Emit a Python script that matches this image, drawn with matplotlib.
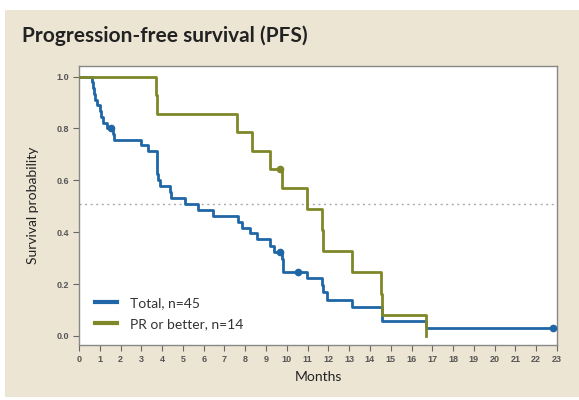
import matplotlib
matplotlib.use('Agg')
import matplotlib.pyplot as plt
from matplotlib.patches import Rectangle

# Total, n=45 (step times in months, survival after step)
total_t=[0.0,0.64,0.67,0.72,0.78,0.85,1.01,1.08,1.17,1.35,1.65,1.70,3.0,3.3,3.74,3.75,3.76,3.77,3.78,3.9,4.38,4.45,5.1,5.74,6.47,7.67,7.83,8.23,8.56,9.2,9.36,9.79,9.8,9.81,10.96,11.68,11.75,11.93,13.13,14.57,16.71,22.8]
total_s=[1.0,0.978,0.956,0.933,0.911,0.889,0.867,0.844,0.822,0.80,0.778,0.756,0.737,0.715,0.693,0.670,0.648,0.625,0.603,0.578,0.555,0.531,0.509,0.486,0.462,0.441,0.418,0.396,0.372,0.348,0.323,0.298,0.273,0.248,0.224,0.196,0.168,0.140,0.112,0.058,0.029,0.029]
total_cens_t=[1.54,9.68,10.56,22.8]
total_cens_s=[0.80,0.323,0.248,0.029]

# PR or better, n=14
pr_t=[0.0,3.71,3.74,7.59,8.31,9.2,9.79,10.99,11.68,11.76,13.13,14.55,14.6,16.71]
pr_s=[1.0,0.929,0.857,0.786,0.714,0.643,0.571,0.49,0.408,0.327,0.245,0.163,0.082,0.0]
pr_cens_t=[9.68]
pr_cens_s=[0.643]

median_line=0.51
xticks=list(range(0,24))
yticks=[0.0,0.2,0.4,0.6,0.8,1.0]

blue='#1f66a6'
olive='#7f8728'
beige='#ece5d3'

fig=plt.figure(figsize=(5.79,4.0),dpi=100,facecolor='white')
bg=Rectangle((5/579,3/400),574/579,387/400,transform=fig.transFigure,facecolor=beige,edgecolor='none',zorder=-10)
fig.add_artist(bg)

fig.text(22/579,1-36/400,'Progression-free survival (PFS)',fontsize=15,fontweight='bold',family='Lato',color='#222222',va='center',ha='left')

ax=fig.add_axes([79/579,1-345/400,478/579,279/400])
ax.set_zorder(5)
ax.set_facecolor('white')

ax.axhline(median_line,color='#aaaaaa',linestyle=(0,(1.5,2.5)),linewidth=1.0,zorder=1)

ax.step(total_t,total_s,where='post',color=blue,linewidth=2.0,label='Total, n=45',zorder=3)
ax.plot(total_cens_t,total_cens_s,'o',color=blue,markersize=4.5,zorder=4)
ax.step(pr_t,pr_s,where='post',color=olive,linewidth=2.0,label='PR or better, n=14',zorder=3)
ax.plot(pr_cens_t,pr_cens_s,'o',color=olive,markersize=4.5,zorder=4)

ax.set_xlim(0,23)
ax.set_ylim(-0.035,1.041)
ax.set_xticks(xticks)
ax.set_xticklabels([str(i) for i in xticks])
ax.set_yticks(yticks)
ax.set_yticklabels(['%.1f' % v for v in yticks])
ax.tick_params(direction='out',length=4,width=0.8,color='#666666',labelsize=6.5,labelcolor='#555555',pad=3)
for lab in ax.get_xticklabels()+ax.get_yticklabels():
    lab.set_family('Liberation Sans')
    lab.set_fontweight('bold')
for sp in ax.spines.values():
    sp.set_color('#888888')
    sp.set_linewidth(1.0)

ax.set_xlabel('Months',fontsize=10,family='Lato',color='#222222',labelpad=5)
ax.set_ylabel('Survival probability',fontsize=10,family='Lato',color='#222222',labelpad=13)

leg=ax.legend(loc='lower left',bbox_to_anchor=(0.022,0.035),frameon=False,prop={'family':'Lato','size':10},handlelength=1.6,handletextpad=0.95,labelspacing=0.6,borderaxespad=0.0)
for t in leg.get_texts():
    t.set_color('#333333')
for l in leg.get_lines():
    l.set_linewidth(3.0)

fig.savefig('out.png',dpi=100,facecolor='white')
